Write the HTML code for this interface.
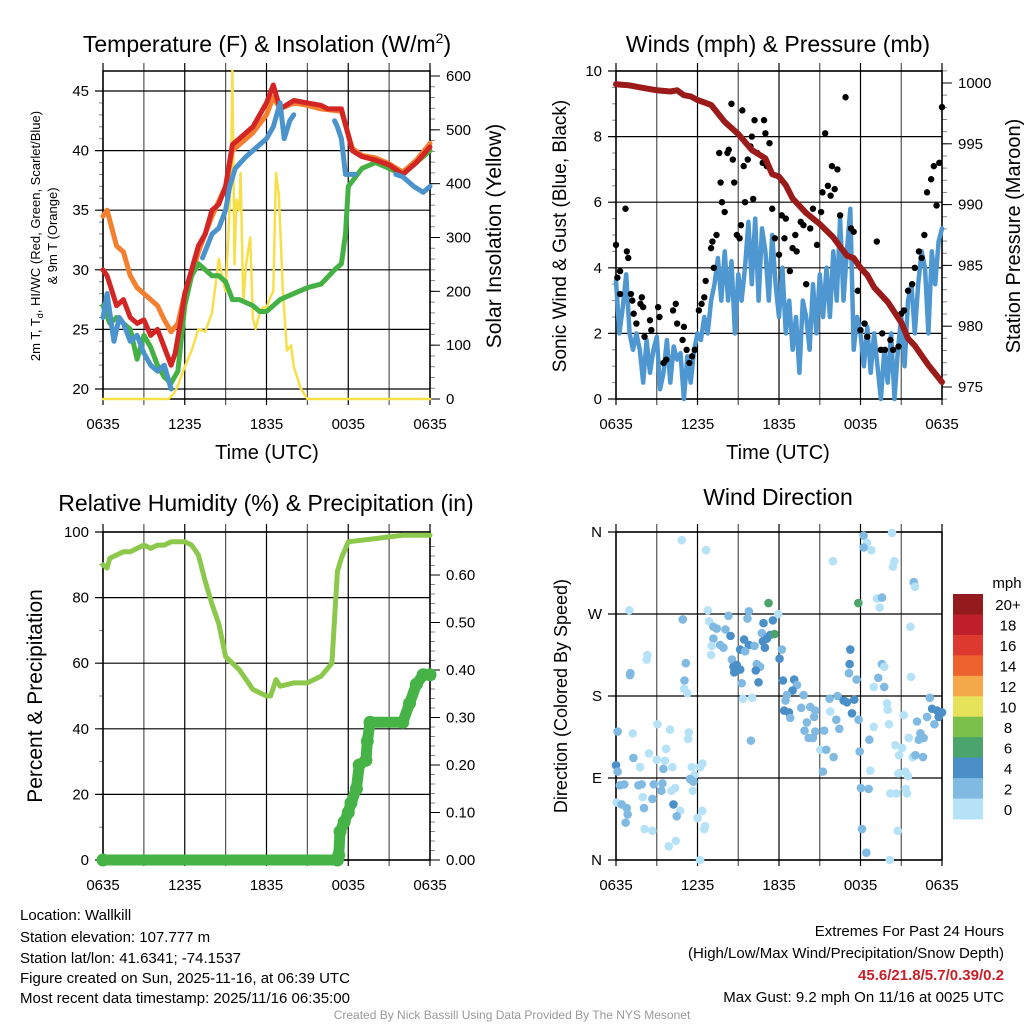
<!DOCTYPE html>
<html><head><meta charset="utf-8"><style>
html,body{margin:0;padding:0;background:#fff;}
svg{display:block;font-family:"Liberation Sans",sans-serif;}
</style></head><body>
<svg id="c" width="1024" height="1024" viewBox="0 0 1024 1024" xmlns="http://www.w3.org/2000/svg">
<g id="g1"></g>
<g id="g2"></g>
<g id="g3"></g>
<g id="g4"></g>
<g id="txt" font-size="15" fill="#000">
<text x="20" y="920">Location: Wallkill</text>
<text x="20" y="942">Station elevation: 107.777 m</text>
<text x="20" y="963">Station lat/lon: 41.6341; -74.1537</text>
<text x="20" y="983">Figure created on Sun, 2025-11-16, at 06:39 UTC</text>
<text x="20" y="1003">Most recent data timestamp: 2025/11/16 06:35:00</text>
<text x="1004" y="936" text-anchor="end">Extremes For Past 24 Hours</text>
<text x="1004" y="958" text-anchor="end">(High/Low/Max Wind/Precipitation/Snow Depth)</text>
<text x="1004" y="980" text-anchor="end" fill="#c8202a" font-weight="bold">45.6/21.8/5.7/0.39/0.2</text>
<text x="1004" y="1002" text-anchor="end">Max Gust: 9.2 mph On 11/16 at 0025 UTC</text>
<text x="512" y="1019" text-anchor="middle" font-size="12" fill="#999">Created By Nick Bassill Using Data Provided By The NYS Mesonet</text>
</g>
</svg>
<script>
// ---------- data ----------
const xTickLabels = ["0635","1235","1835","0035","0635"];
// Temperature panel (hours since 0635 UTC)
const redH = [0,0.3,1,1.5,2,2.5,3,3.5,4,4.5,5,5.3,5.6,6,6.5,7,7.5,8,8.5,9,9.5,10,11,12,12.5,13,14,15,16,16.5,17.5,18.3,19,20,21,22,23,24];
const redT = [30,29.5,27,27.5,26,25.5,25.8,24.5,25,23.5,22,23,25,28,30,32,33,35,35.5,37,40.5,41,42,44,45.5,43.5,44.2,44,43.8,43.5,43.5,40,39.5,39.2,38.8,38,39,40.3];
const orangeH = [0,0.3,1,1.5,2,2.5,3,3.5,4,4.5,5,5.5,6,6.5,7,8,9,9.5,10,11,12,12.5,13,14,15,16,17.5,18.3,19,20,21,22,23,24];
const orangeT = [34.5,35,32,31.5,29.5,28.5,28,27.5,27,25.8,24.8,25.5,28,29.5,31.5,34.5,37,40,40.5,41.5,43,44.5,43.5,44,43.8,43.5,43.3,40.2,39.6,39.4,38.9,38.2,39.2,40.6];
const greenH = [0,0.5,1,1.5,2,2.5,3,3.5,4,4.5,5,5.5,6,6.5,7,7.5,8,8.5,9,9.5,10,11,11.5,12,12.5,13,14,15,16,17,17.5,17.8,18,19,20,21,22,23,24];
const greenT = [27,25.5,26,25.5,25,22.5,24.5,23.5,22,21,20.5,21.5,27,29.5,30.5,30,29.5,29.5,29,27.5,27.5,27,26.5,26.5,27,27.5,28,28.5,28.8,30,30.5,33,37,38.5,39,38.5,38,39,40];
const blueH = [0,0.3,0.8,1.2,1.5,2,2.5,3,3.5,4,4.5,5,null,7.3,8,8.5,9,9.3,9.7,10.5,11,11.5,12,12.5,13,13.3,13.7,14,null,17,17.2,17.5,17.8,18,18.5,null,21.5,22,22.8,23.5,24];
const blueT = [26,28,24,26,25.5,24,24.5,23,22,21.5,22,20,null,31,33,33.5,35,37,38.5,39.5,40,40.5,41,42,44,41,42.5,43,null,42.5,42,41,38,38,38,null,38,37.8,37,36.5,37];
const solarH = [0,4.8,5.2,5.5,6,6.5,7,7.5,8,8.5,8.8,9,9.2,9.4,9.5,9.65,9.8,10,10.1,10.3,10.5,10.8,11,11.2,11.5,11.7,12,12.3,12.5,12.7,12.9,13.2,13.5,13.8,14,14.5,15,24];
const solarW = [0,0,10,25,60,90,130,125,160,260,220,200,300,430,610,250,370,350,420,180,250,300,150,130,160,170,170,190,200,420,380,200,90,100,60,20,0,0];
// Winds panel
const windH = [0,0.25,0.5,0.75,1,1.25,1.5,1.75,2,2.25,2.5,2.75,3,3.25,3.5,3.75,4,4.25,4.5,4.75,5,5.25,5.5,5.75,6,6.25,6.5,6.75,7,7.25,7.5,7.75,8,8.25,8.5,8.75,9,9.25,9.5,9.75,10,10.25,10.5,10.75,11,11.25,11.5,11.75,12,12.25,12.5,12.75,13,13.25,13.5,13.75,14,14.25,14.5,14.75,15,15.25,15.5,15.75,16,16.25,16.5,16.75,17,17.25,17.5,17.75,18,18.25,18.5,18.75,19,19.25,19.5,19.75,20,20.25,20.5,20.75,21,21.25,21.5,21.75,22,22.25,22.5,22.75,23,23.25,23.5,23.75,24];
const windV = [3.6,2.0,2.8,3.8,2.0,1.5,2.0,1.5,0.5,1.8,0.8,1.5,1.9,0.3,0.8,1.8,0.5,1.6,1.2,1.4,0.0,1.3,0.5,1.5,2.0,1.8,2.5,2.0,3.0,3.5,4.3,3.0,4.5,3.0,4.2,2.0,3.8,3.0,4.0,5.4,3.5,5.5,3.0,5.2,4.5,3.0,5.0,3.5,2.5,4.0,2.0,3.0,1.5,2.5,0.8,3.0,2.5,1.5,3.5,2.0,3.8,2.5,4.0,2.5,4.5,3.0,5.5,3.0,4.5,5.8,1.5,2.5,2.0,1.0,2.2,0.8,2.0,1.0,0.0,1.5,0.5,2.0,0.0,1.5,2.5,1.0,3.0,3.5,2.0,3.5,4.5,4.0,2.0,4.5,3.5,4.8,5.2];
const gustH = [0,0.1,0.3,0.3,0.7,0.8,0.9,1.1,1.2,1.3,1.5,1.8,1.9,2.0,2.1,2.5,2.6,3.1,3.2,3.5,3.7,4.2,4.4,4.5,4.9,5.0,5.2,5.4,5.6,5.8,6.1,6.3,6.5,6.6,7.0,7.1,7.2,7.4,7.6,7.7,7.8,8.0,8.2,8.3,8.5,8.6,8.7,8.9,9.1,9.2,9.3,9.4,9.5,9.7,9.9,10.0,10.1,10.2,10.4,10.8,10.9,11.0,11.1,11.3,11.5,11.7,12.0,12.2,12.4,12.5,12.8,13.0,13.2,13.3,13.6,13.8,14.0,14.3,14.5,14.8,15.1,15.2,15.4,15.6,15.8,15.9,16.1,16.3,16.5,16.9,17.3,17.5,17.8,18.0,18.3,18.5,19.2,19.5,19.6,19.8,20.2,20.4,20.8,21.0,21.2,21.5,21.8,22.0,22.3,22.5,22.7,22.9,23.2,23.4,23.6,23.8,24.0];
const gustV = [4.7,3.7,3.9,3.2,5.8,4.5,4.3,3.2,3.0,2.6,2.3,2.9,3.1,2.8,1.9,2.4,2.1,2.8,2.5,1.1,1.2,2.7,2.9,2.3,1.8,2.2,1.5,1.1,1.3,1.5,2.7,2.9,3.1,3.6,4.6,4.8,4.0,5.0,7.5,6.6,6.0,5.7,7.5,7.6,9.0,7.3,6.6,5.0,4.9,5.3,8.8,7.1,6.0,7.3,7.7,8.0,6.1,8.5,7.5,7.2,8.5,8.1,7.1,7.8,5.8,4.9,4.4,5.6,4.9,5.5,3.9,4.6,5.0,4.5,5.4,5.3,3.5,5.2,5.8,4.7,5.7,6.3,8.1,6.5,6.2,7.1,6.4,7.0,5.6,9.2,5.2,5.1,3.3,2.1,2.3,1.9,4.8,1.5,2.0,1.5,1.8,1.5,1.6,2.6,2.7,3.3,3.5,4.0,4.5,4.3,5.0,6.3,6.7,7.1,5.9,7.2,8.9];
const presH = [0,1,2,3,4,4.5,5,5.5,6,7,8,9,10,11,11.5,12,12.5,13,14,15,16,17,17.5,18,18.5,19,20,21,21.5,22,23,24];
const presMb = [999.9,999.8,999.6,999.4,999.3,999.4,999.0,998.9,998.6,998.2,996.8,995.8,994.5,993.8,992.5,992.3,991.6,990.5,989.3,988.4,987.3,985.8,985.6,984.8,984.2,983.2,982.0,980.3,979.0,978.4,976.8,975.4];
// Humidity panel
const rhH = [0,0.3,0.5,1,1.5,2,2.5,3,3.5,4,4.5,5,5.5,6,6.5,7,7.5,8,8.5,9,9.5,10,10.5,11,11.5,12,12.3,12.7,13,14,15,16,16.8,17.2,17.5,18,19,20,21,22,23,24];
const rhPct = [90,89,92,93,94,94,95,96,95,96,96,97,97,97,96,93,85,78,72,62,60,58,55,52,51,50,50,55,53,54,54,56,60,88,92,97,97.5,98,98.5,99,99,99];
const precipH = [0,17.2,17.3,17.4,17.7,18.0,18.2,18.6,18.8,19.3,19.4,19.6,22,22.5,23,23.5,24];
const precipIn = [0,0,0.01,0.06,0.08,0.10,0.12,0.15,0.20,0.21,0.25,0.29,0.29,0.33,0.37,0.39,0.39];
// Wind direction panel
const dirH = [4.84,6.63,18.23,18.48,18.8,18.23,20.32,15.97,20.49,20.39,21.92,22.01,0.98,4.91,6.76,8.28,9.78,9.68,11.23,11.94,17.84,19.21,19.58,19.41,21.67,6.86,7.17,7.42,8.06,7.17,7.05,7.67,7.91,7.0,8.43,9.43,9.78,9.14,9.51,10.2,10.86,11.55,10.74,11.35,11.67,11.11,10.81,10.96,12.21,12.04,2.31,2.26,1.06,1.03,5.14,5.04,5.01,5.26,8.53,8.65,8.89,8.7,9.14,10.37,10.61,10.29,10.49,9.26,9.34,10.02,9.93,12.29,13.12,13.32,13.0,12.58,12.48,13.81,12.38,12.73,12.83,13.64,14.3,14.67,14.59,14.05,13.88,14.67,14.18,14.5,15.04,15.48,16.02,15.23,15.33,15.72,16.31,16.76,17.0,17.37,17.54,17.86,15.77,16.22,16.44,17.25,17.2,17.15,17.71,19.58,19.75,19.31,18.97,19.75,19.95,20.0,21.18,22.16,21.72,23.1,23.27,23.64,24.0,23.76,23.44,22.9,22.41,22.29,22.65,21.55,20.57,21.06,20.84,21.84,22.6,22.04,20.1,18.97,18.65,17.94,18.72,20.79,21.3,21.5,21.33,21.42,20.64,20.2,18.03,18.6,18.11,18.43,20.74,20.15,0.0,0.12,0.12,1.23,0.29,0.61,1.65,1.89,2.78,3.42,3.34,1.28,1.77,2.43,3.05,3.98,3.69,3.0,3.61,3.49,4.15,5.36,5.31,5.58,5.77,5.7,5.45,6.36,6.19,4.08,4.35,5.65,1.97,2.06,2.68,0.05,0.42,0.79,0.86,0.71,4.23,4.72,4.47,6.0,6.34,6.56,6.49,2.11,2.68,3.88,4.4,6.19];
const dirDeg = [351,340,356,348,340,343,359,328,328,322,305,300,274,264,274,268,273,265,282,270,282,287,288,277,256,262,256,254,253,243,235,236,233,225,246,242,236,231,229,235,260,263,249,247,248,243,240,233,231,221,225,220,205,203,216,197,188,183,220,212,214,206,209,215,212,208,195,194,177,178,131,197,198,192,186,181,175,181,164,162,156,167,168,164,157,151,142,141,134,134,121,121,113,97,142,177,180,175,173,161,176,154,163,154,144,231,215,205,198,215,212,200,190,190,172,165,159,152,201,178,166,164,162,157,149,157,139,132,134,134,126,123,115,113,113,115,149,146,132,119,98,95,97,92,78,73,73,73,79,78,34,8,32,0,104,97,141,139,82,83,82,83,83,84,76,112,102,117,149,143,122,110,109,100,102,140,133,102,93,86,89,106,102,76,79,76,69,57,67,63,61,57,50,41,61,54,48,46,54,37,34,34,32,15,21,0];
const dirSpd = [1,1,3,1,1,3,1,1,1,1,3,1,1,3,1,3,3,3,7,1,7,1,3,1,1,1,3,3,3,3,1,3,3,1,5,5,5,5,3,3,5,5,3,5,7,5,5,5,3,5,1,1,3,3,3,3,1,1,3,5,5,5,5,3,3,5,5,3,1,1,3,5,5,3,5,3,3,3,5,5,3,3,3,3,3,3,3,3,3,3,1,3,3,3,3,3,3,5,5,5,5,3,1,3,3,5,5,3,3,3,1,3,1,3,1,1,1,3,1,3,5,5,5,5,3,3,3,3,3,1,1,1,1,1,3,3,1,1,3,3,1,1,1,1,1,1,1,1,3,3,3,3,1,1,5,3,3,1,3,3,3,3,3,3,3,3,1,1,1,1,1,1,1,3,1,1,1,1,1,3,3,1,1,1,1,1,1,3,3,1,3,3,3,3,5,1,3,1,1,1,1,1,1,1,1,1,1];
const cbLabels = ["20+","18","16","14","12","10","8","6","4","2","0"];
const cbColors = ["#931a1d","#bf1f2a","#dc3a2e","#ee6230","#f5a84a","#e6e25a","#7bc04a","#4aa46c","#4a8fc8","#80b9e2","#b5e2f7"];

// ---------- helpers ----------
const NS = "http://www.w3.org/2000/svg";
function mk(parent, tag, attrs, text){
  const e = document.createElementNS(NS, tag);
  for (const k in attrs) e.setAttribute(k, attrs[k]);
  if (text !== undefined) e.textContent = text;
  parent.appendChild(e);
  return e;
}
function linFn(d0,d1,r0,r1){ return v => r0 + (v-d0)*(r1-r0)/(d1-d0); }
function pathFrom(hs, vs, xf, yf){
  let d = "", pen = false;
  for (let i=0;i<hs.length;i++){
    if (hs[i]===null || vs[i]===null){ pen=false; continue; }
    d += (pen?"L":"M") + xf(hs[i]).toFixed(1) + "," + yf(vs[i]).toFixed(1);
    pen = true;
  }
  return d;
}
function frame(g, x0, x1, yT, yB, xf){
  // vertical grid every 3h
  for (let h=0; h<=24; h+=3){
    const x = xf(h);
    const ln = mk(g,"line",{x1:x,x2:x,y1:yT-8,y2:yB+6,stroke:(h%6===0)?"#000":"#555","stroke-width":1.2});
    
    
  }
  const r = mk(g,"rect",{x:x0,y:yT,width:x1-x0,height:yB-yT,fill:"none",stroke:"#000","stroke-width":1.5});
  
  
  xTickLabels.forEach((lab,i)=>{
    const t = mk(g,"text",{x:xf(i*6),y:yB+30,"text-anchor":"middle","font-size":15},lab);
    
    
  });
}
function hgrid(g, x0, x1, y, label, side){
  const ln = mk(g,"line",{x1:x0-8,x2:x1,y1:y,y2:y,stroke:"#000","stroke-width":1.2});
  
  
  const t = mk(g,"text",{x:x0-14,y:y+5,"text-anchor":"end","font-size":15},label);
  
  
}
function rtick(g, x1, y, label){
  mk(g,"line",{x1:x1,x2:x1+10,y1:y,y2:y,stroke:"#000","stroke-width":1});
  const t = mk(g,"text",{x:x1+16,y:y+5,"font-size":15},label);
  
  
}
function minor(g,x,y,len){ mk(g,"line",{x1:x,x2:x+len,y1:y,y2:y,stroke:"#888","stroke-width":1}); }
function title(g,x,y,txt,size){
  const t = mk(g,"text",{x:x,y:y,"text-anchor":"middle","font-size":size||23});
  
  
  return t;
}
function vlabel(g,x,y,txt,size,name){
  const t = mk(g,"text",{x:x,y:y,"text-anchor":"middle","font-size":size,transform:`rotate(-90 ${x} ${y})`},txt);
  
  
  return t;
}
function line(g, hs, vs, xf, yf, color, w, name){
  const p = mk(g,"path",{d:pathFrom(hs,vs,xf,yf),fill:"none",stroke:color,"stroke-width":w,"stroke-linejoin":"round","stroke-linecap":"round"});
  
  
}

// ---------- Panel 1: Temperature ----------
(function(){
  const g = document.getElementById("g1");
  const x0=103,x1=430,yT=71,yB=399;
  const xf = linFn(0,24,x0,x1), yf = linFn(20,45,389,91), ys = linFn(0,600,399,76);
  for (let v=20; v<=45; v++) minor(g,x0-4,yf(v),4);
  for (let v=0; v<=600; v+=20) minor(g,x1,ys(v),5);
  frame(g,x0,x1,yT,yB,xf);
  for (let v=20; v<=45; v+=5) hgrid(g,x0,x1,yf(v),String(v));
  for (let v=0; v<=600; v+=100) rtick(g,x1,ys(v),String(v));
  line(g,solarH,solarW,xf,ys,"#f7df4a",2.5,"solar-line");
  line(g,orangeH,orangeT,xf,yf,"#f47f2f",5,"9m-temp-line");
  line(g,greenH,greenT,xf,yf,"#45b043",5,"dewpoint-line");
  line(g,redH,redT,xf,yf,"#d42525",5,"2m-temp-line");
  line(g,blueH,blueT,xf,yf,"#4a93cc",5,"windchill-line");
  const t = title(g,267,52,"",23);
  t.innerHTML = 'Temperature (F) &amp; Insolation (W/m<tspan dy="-9" font-size="14">2</tspan><tspan dy="9">)</tspan>';
  const tl = mk(g,"text",{x:267,y:459,"text-anchor":"middle","font-size":20},"Time (UTC)");
   
  const v1 = vlabel(g,40,236,"",13,"y-axis-title");
  v1.innerHTML = '2m T, T<tspan dy="3" font-size="9">d</tspan><tspan dy="-3">, HI/WC (Red, Green, Scarlet/Blue)</tspan>';
  vlabel(g,57,236,"& 9m T (Orange)",13,"y-axis-title-2");
  vlabel(g,501,236,"Solar Insolation (Yellow)",21,"right-axis-title");
})();

// ---------- Panel 2: Winds ----------
(function(){
  const g = document.getElementById("g2");
  const x0=616,x1=942,yT=71,yB=399;
  const xf = linFn(0,24,x0,x1), yf = linFn(0,10,399,71), ys = linFn(975,1000,387,83);
  for (let v=0; v<=10; v+=0.5) minor(g,x0-4,yf(v),4);
  for (let v=974; v<=1001; v++) minor(g,x1,ys(v),5);
  frame(g,x0,x1,yT,yB,xf);
  for (let v=0; v<=10; v+=2) hgrid(g,x0,x1,yf(v),String(v));
  for (let v=975; v<=1000; v+=5) rtick(g,x1,ys(v),String(v));
  line(g,windH,windV,xf,yf,"#4f97d1",4.5,"sonic-wind-line");
  gustH.forEach((h,i)=>{
    const c = mk(g,"circle",{cx:xf(h),cy:yf(gustV[i]),r:3.2,fill:"#000"});
    
    
  });
  line(g,presH,presMb,xf,ys,"#9b1a1a",6,"pressure-line");
  const t = title(g,778,52,"",23); t.textContent = "Winds (mph) & Pressure (mb)";
  const tl = mk(g,"text",{x:778,y:459,"text-anchor":"middle","font-size":20},"Time (UTC)");
   
  vlabel(g,566,236,"Sonic Wind & Gust (Blue, Black)",19,"y-axis-title");
  vlabel(g,1020,236,"Station Pressure (Maroon)",20,"right-axis-title");
})();

// ---------- Panel 3: Humidity ----------
(function(){
  const g = document.getElementById("g3");
  const x0=103,x1=430,yT=532,yB=860;
  const xf = linFn(0,24,x0,x1), yf = linFn(0,100,860,532), ys = linFn(0,0.6,860,575);
  for (let v=0; v<=100; v+=10) minor(g,x0-4,yf(v),4);
  for (let v=0; v<=0.68; v+=0.02) minor(g,x1,ys(v),5);
  frame(g,x0,x1,yT,yB,xf);
  for (let v=0; v<=100; v+=20) hgrid(g,x0,x1,yf(v),String(v));
  for (let v=0; v<=6; v++) rtick(g,x1,ys(v/10),(v/10).toFixed(2));
  line(g,rhH,rhPct,xf,yf,"#8cc84b",5,"humidity-line");
  line(g,precipH,precipIn,xf,ys,"#46b347",11,"precip-line");
  precipH.forEach((h,i)=>{
    const c = mk(g,"circle",{cx:xf(h),cy:ys(precipIn[i]),r:6.5,fill:"#46b347"});
    
    
  });
  const t = title(g,266,511,"",23); t.textContent = "Relative Humidity (%) & Precipitation (in)";
  vlabel(g,42,696,"Percent & Precipitation",21,"y-axis-title");
})();

// ---------- Panel 4: Wind direction ----------
(function(){
  const g = document.getElementById("g4");
  const x0=616,x1=942,yT=532,yB=860;
  const xf = linFn(0,24,x0,x1), yf = linFn(0,360,860,532);
  frame(g,x0,x1,yT,yB,xf);
  const dl = ["N","E","S","W","N"];
  dl.forEach((lab,i)=>hgrid(g,x0,x1,yf(i*90),lab));
  function col(s){ const idx = Math.min(10, Math.floor(s/2)); return cbColors[10-idx]; }
  dirH.forEach((h,i)=>{
    const c = mk(g,"circle",{cx:xf(h),cy:yf(dirDeg[i]),r:4.3,fill:col(dirSpd[i])});
    
    
  });
  const cb = mk(g,"g",{});
  
  
  const cy0=594, seg=(819-594)/11;
  cbColors.forEach((c,i)=>{
    const r = mk(cb,"rect",{x:953,y:cy0+i*seg,width:30,height:seg+0.5,fill:c});
    
    
    const t = mk(cb,"text",{x:1008,y:cy0+i*seg+seg/2+6,"text-anchor":"middle","font-size":15},cbLabels[i]);
    
    
  });
  const mu = mk(cb,"text",{x:1007,y:588,"text-anchor":"middle","font-size":15},"mph");
  
  
  const t = title(g,778,505,"",23); t.textContent = "Wind Direction";
  vlabel(g,567,696,"Direction (Colored By Speed)",18,"y-axis-title");
})();
</script>
</body></html>
